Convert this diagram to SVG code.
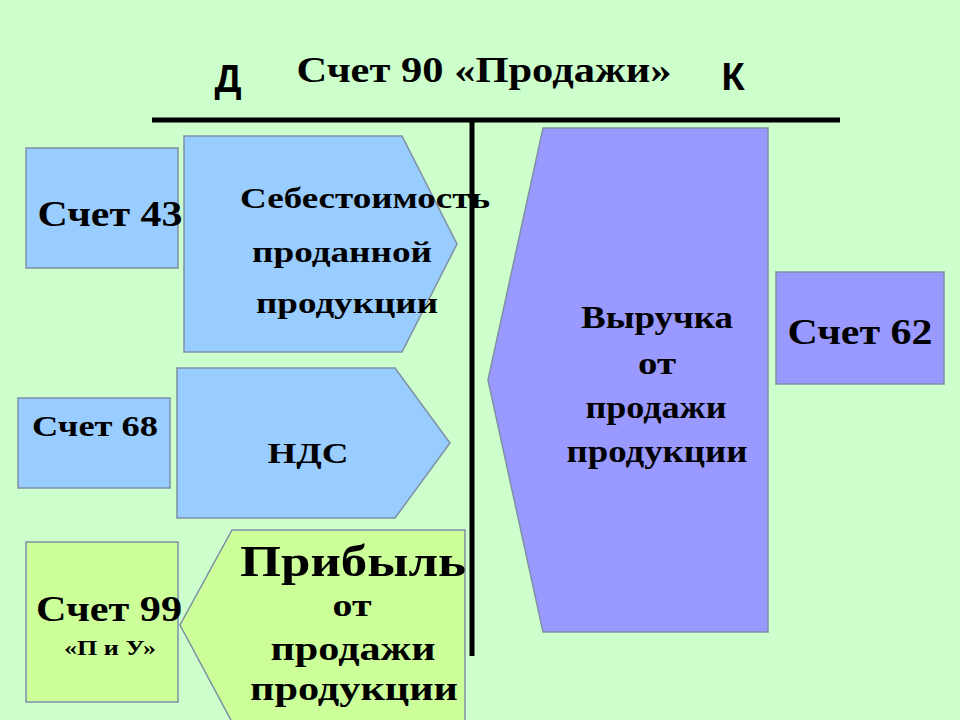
<svg xmlns="http://www.w3.org/2000/svg" width="960" height="720" viewBox="0 0 960 720">
<style>
.t{font-family:"Liberation Serif",serif;font-weight:bold;text-anchor:middle;fill:#000}
.s{font-family:"Liberation Sans",sans-serif;font-weight:bold;text-anchor:middle;fill:#000}
.b{fill:#99CCFF;stroke:#7F8FA6;stroke-width:1.5}
.p{fill:#9999FF;stroke:#7F8FA6;stroke-width:1.5}
.y{fill:#CCFF99;stroke:#7F8FA6;stroke-width:1.5}
</style>
<rect width="960" height="720" fill="#CCFFCC"/>
<g id="header">
<text class="t" x="484" y="82" font-size="36" textLength="375" lengthAdjust="spacingAndGlyphs">Счет 90 «Продажи»</text>
<text class="s" x="228" y="92" font-size="38">Д</text>
<text class="s" x="733" y="90" font-size="38">К</text>
</g>
<g id="connectors" stroke="#000" stroke-width="5">
<line x1="152" y1="120" x2="840" y2="120"/>
<line x1="472" y1="120" x2="472" y2="656"/>
</g>
<g id="s43"><rect class="b" x="26" y="148" width="152" height="120"/><text class="t" x="110" y="226" font-size="36" textLength="145" lengthAdjust="spacingAndGlyphs">Счет 43</text></g>
<g id="cost"><polygon class="b" points="184,136 402,136 457,244 402,352 184,352"/>
<text class="t" x="365" y="208" font-size="30" textLength="250" lengthAdjust="spacingAndGlyphs">Себестоимость</text>
<text class="t" x="342" y="262" font-size="30" textLength="180" lengthAdjust="spacingAndGlyphs">проданной</text>
<text class="t" x="347" y="313" font-size="30" textLength="182" lengthAdjust="spacingAndGlyphs">продукции</text></g>
<g id="s68"><rect class="b" x="18" y="398" width="152" height="90"/><text class="t" x="95" y="436" font-size="30" textLength="126" lengthAdjust="spacingAndGlyphs">Счет 68</text></g>
<g id="nds"><polygon class="b" points="177,368 395,368 450,443 395,518 177,518"/><text class="t" x="308" y="463" font-size="30" textLength="81" lengthAdjust="spacingAndGlyphs">НДС</text></g>
<g id="s99"><rect class="y" x="26" y="542" width="152" height="160"/>
<text class="t" x="109" y="621" font-size="36" textLength="146" lengthAdjust="spacingAndGlyphs">Счет 99</text>
<text class="t" x="110" y="655" font-size="22" textLength="92" lengthAdjust="spacingAndGlyphs">«П и У»</text></g>
<g id="profit"><polygon class="y" points="232,530 465,530 465,722 232,722 180,625"/>
<text class="t" x="353" y="576" font-size="44" textLength="226" lengthAdjust="spacingAndGlyphs">Прибыль</text>
<text class="t" x="352" y="616" font-size="32" textLength="39" lengthAdjust="spacingAndGlyphs">от</text>
<text class="t" x="353" y="660" font-size="34" textLength="165" lengthAdjust="spacingAndGlyphs">продажи</text>
<text class="t" x="354" y="700" font-size="34" textLength="208" lengthAdjust="spacingAndGlyphs">продукции</text></g>
<g id="revenue"><polygon class="p" points="543,128 768,128 768,632 543,632 488,380"/>
<text class="t" x="657" y="328" font-size="32" textLength="152" lengthAdjust="spacingAndGlyphs">Выручка</text>
<text class="t" x="657" y="374" font-size="32" textLength="38" lengthAdjust="spacingAndGlyphs">от</text>
<text class="t" x="656" y="418" font-size="32" textLength="141" lengthAdjust="spacingAndGlyphs">продажи</text>
<text class="t" x="657" y="462" font-size="32" textLength="181" lengthAdjust="spacingAndGlyphs">продукции</text></g>
<g id="s62"><rect class="p" x="776" y="272" width="168" height="112"/><text class="t" x="860" y="344" font-size="36" textLength="145" lengthAdjust="spacingAndGlyphs">Счет 62</text></g>
</svg>
